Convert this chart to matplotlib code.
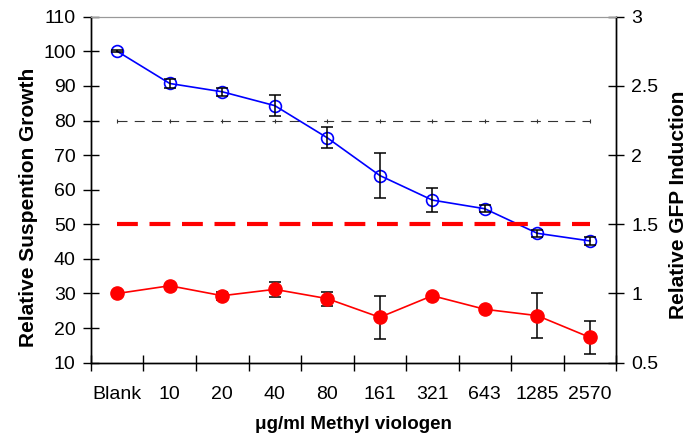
import matplotlib.pyplot as plt
import numpy as np

plt.rcParams['font.family'] = ['Liberation Sans', 'DejaVu Sans']

doses = ["Blank", "10", "20", "40", "80", "161", "321", "643", "1285", "2570"]
growth = [100, 90.7, 88.3, 84.3, 75.0, 64.1, 57.0, 54.5, 47.4, 45.2]
growth_err = [0.3, 1.2, 1.1, 3.0, 3.0, 6.6, 3.4, 1.0, 1.0, 1.2]
gfp = [1.0, 1.056, 0.984, 1.03, 0.963, 0.828, 0.984, 0.886, 0.84, 0.683]
gfp_err = [0.01, 0.012, 0.03, 0.053, 0.05, 0.154, 0.015, 0.015, 0.16, 0.117]
growth_ref = 80
gfp_ref = 1.5

x = np.arange(len(doses))

fig = plt.figure(figsize=(6.93, 4.34), dpi=100)
ax = fig.add_axes([0.1313, 0.1643, 0.7577, 0.7972])
ax2 = ax.twinx()

# growth series on the left scale
ax.plot(x, [growth_ref] * len(x), color='#333333', lw=0.8,
        linestyle=(0, (9, 6.5)), marker='|', markersize=3, markeredgewidth=0.8, zorder=2)
ax.plot(x, growth, color='#0000FF', lw=1.2, marker='o', markersize=8.5,
        markerfacecolor='none', markeredgecolor='#0000FF', markeredgewidth=1.2, zorder=3)
ax.errorbar(x, growth, yerr=growth_err, fmt='none', ecolor='black',
            elinewidth=1.1, capsize=4, capthick=1.1, zorder=4)

# GFP induction on the right scale
ax2.plot(x, [gfp_ref] * len(x), color='#FF0000', lw=3,
         linestyle=(0, (5, 2.8)), zorder=2)
ax2.errorbar(x, gfp, yerr=gfp_err, fmt='none', ecolor='black',
             elinewidth=1.1, capsize=4, capthick=1.1, zorder=3)
ax2.plot(x, gfp, color='#FF0000', lw=1.2, marker='o', markersize=9.5,
         markerfacecolor='#FF0000', markeredgecolor='#FF0000', zorder=4)

ax.set_xlim(-0.5, len(x) - 0.5)
ax.set_ylim(10, 110)
ax2.set_ylim(0.5, 3)
ax.set_yticks(np.arange(10, 111, 10))
ax2.set_yticks([0.5, 1, 1.5, 2, 2.5, 3])
ax2.set_yticklabels(['0.5', '1', '1.5', '2', '2.5', '3'])

ax.set_xticks(np.arange(-0.5, len(x), 1))
ax.set_xticklabels([])
ax.set_xticks(x, minor=True)
ax.set_xticklabels(doses, minor=True)
ax.tick_params(axis='x', which='minor', length=0, pad=17, labelsize=14)
ax.tick_params(axis='x', which='major', direction='inout', length=12, width=1)
ax.tick_params(axis='y', direction='inout', length=12, width=1, labelsize=14, pad=5)
ax2.tick_params(axis='y', direction='inout', length=12, width=1, labelsize=14, pad=5)

for a in (ax, ax2):
    a.spines['top'].set_color('#999999')
    a.spines['top'].set_linewidth(0.8)
    a.spines['left'].set_linewidth(1)
    a.spines['right'].set_linewidth(1)
    a.spines['bottom'].set_linewidth(1)

ax.set_ylabel("Relative Suspention Growth", fontsize=15, fontweight='bold')
ax2.set_ylabel("Relative GFP Induction", fontsize=15, fontweight='bold')
ax.yaxis.set_label_coords(-0.1, 0.45)
ax2.yaxis.set_label_coords(1.1, 0.455)
ax.set_xlabel("\u03bcg/ml Methyl viologen", fontsize=13.5, fontweight='bold', labelpad=9)

fig.savefig("out.png", dpi=100)
